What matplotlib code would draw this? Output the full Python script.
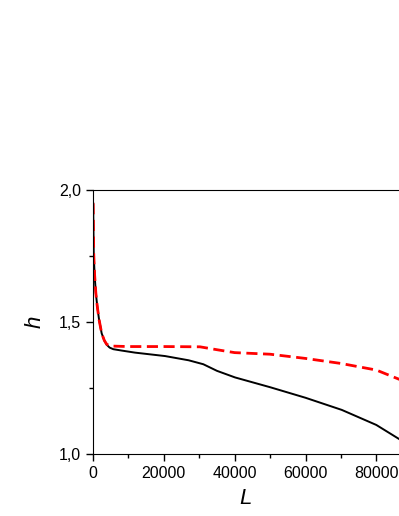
import matplotlib.pyplot as plt
from matplotlib.ticker import MultipleLocator, FuncFormatter

plt.rcParams['font.family'] = ['Liberation Sans', 'DejaVu Sans']

# black solid curve
L_black = [50, 200, 450, 800, 1200, 1700, 2450, 3200, 3850, 4700, 5740, 8000,
           11860, 20340, 27000, 31150, 35000, 40110, 50000, 60000, 70250, 80000, 87000]
h_black = [1.95, 1.76, 1.68, 1.61, 1.56, 1.51, 1.457, 1.43, 1.414, 1.403, 1.397, 1.392,
           1.384, 1.371, 1.355, 1.340, 1.315, 1.290, 1.253, 1.213, 1.167, 1.110, 1.052]

# red dashed curve
L_red = [50, 200, 450, 800, 1200, 1700, 2450, 3200, 3850, 4800, 10000, 20000,
         30200, 35000, 40000, 50000, 60000, 70000, 80000, 87000]
h_red = [1.95, 1.76, 1.68, 1.61, 1.56, 1.51, 1.457, 1.43, 1.416, 1.409, 1.407, 1.407,
         1.406, 1.395, 1.384, 1.378, 1.362, 1.343, 1.318, 1.280]

fig = plt.figure(figsize=(3.99, 5.16), dpi=100)
ax = fig.add_axes([93 / 399, 62 / 516, 1 - 93 / 399, 264 / 516])

ax.plot(L_black, h_black, color='black', lw=1.4)
ax.plot(L_red, h_red, color='red', lw=2.0, ls=(0, (4, 2)))

ax.set_xlim(0, 86400)
ax.set_ylim(1.0, 2.0)
ax.spines['right'].set_visible(False)

ax.xaxis.set_major_locator(MultipleLocator(20000))
ax.xaxis.set_minor_locator(MultipleLocator(10000))
ax.yaxis.set_major_locator(MultipleLocator(0.5))
ax.yaxis.set_minor_locator(MultipleLocator(0.25))
ax.yaxis.set_major_formatter(FuncFormatter(lambda v, p: f'{v:.1f}'.replace('.', ',')))
ax.tick_params(which='major', direction='out', length=5, width=1, labelsize=11.5)
ax.tick_params(which='minor', direction='out', length=3, width=1)
ax.tick_params(top=False, right=False)

ax.set_xlabel('L', fontsize=16, style='italic', labelpad=5)
ax.set_ylabel('h', fontsize=16, style='italic', labelpad=10)

fig.savefig('out.png', dpi=100)
